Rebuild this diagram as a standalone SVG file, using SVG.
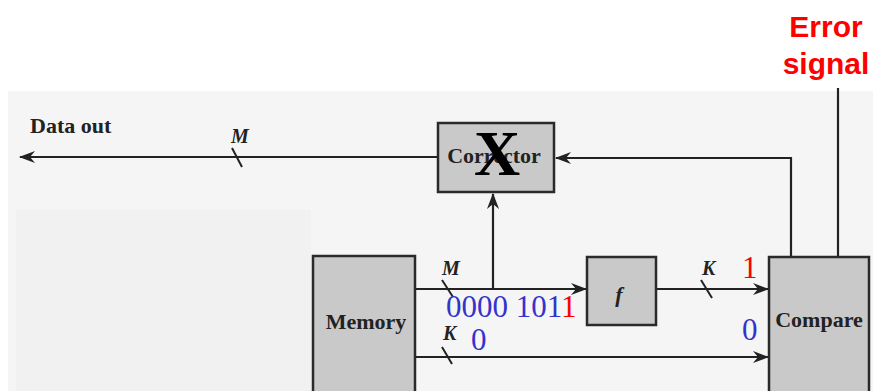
<svg xmlns="http://www.w3.org/2000/svg" width="873" height="391" viewBox="0 0 873 391">
<style>
.box{fill:#c9c9c9;stroke:#2a2a2a;stroke-width:2.5}
.lbl{font-family:"Liberation Serif",serif;font-weight:bold;font-size:22px;fill:#222}
.it{font-family:"Liberation Serif",serif;font-weight:bold;font-style:italic;font-size:20px;fill:#222}
.ln{fill:none;stroke:#222;stroke-width:2.2}
.sl{stroke:#222;stroke-width:2}
.num{font-family:"Liberation Serif",serif;font-size:31px}
.err{font-family:"Liberation Sans",Arial,sans-serif;font-weight:bold;font-size:30px;fill:#ff0000}
</style>
<defs>
<marker id="ah" viewBox="0 0 16 12" refX="15" refY="6" markerWidth="16" markerHeight="12" markerUnits="userSpaceOnUse" orient="auto">
<path d="M0,0 L16,6 L0,12 L5,6 z" fill="#222"/>
</marker>
</defs>
<rect x="0" y="0" width="873" height="391" fill="#ffffff"/>
<rect x="8" y="91" width="865" height="300" fill="#f5f5f5"/>
<rect x="16" y="210" width="295" height="181" fill="#f1f1f1"/>
<g id="connectors">
<line class="ln" x1="438" y1="157" x2="20" y2="157" marker-end="url(#ah)"/>
<line class="sl" x1="232" y1="148" x2="242" y2="167"/>
<polyline class="ln" points="791,257 791,158 556,158" marker-end="url(#ah)"/>
<line class="ln" x1="838" y1="88" x2="838" y2="257"/>
<line class="ln" x1="493" y1="289" x2="493" y2="194" marker-end="url(#ah)"/>
<line class="ln" x1="415" y1="289" x2="586" y2="289" marker-end="url(#ah)"/>
<line class="sl" x1="442" y1="280" x2="453" y2="297"/>
<line class="ln" x1="656" y1="289" x2="768" y2="289" marker-end="url(#ah)"/>
<line class="sl" x1="701" y1="280" x2="712" y2="298"/>
<line class="ln" x1="415" y1="357" x2="768" y2="357" marker-end="url(#ah)"/>
<line class="sl" x1="442" y1="347" x2="452" y2="364"/>
</g>
<g id="corrector">
<rect class="box" x="438" y="123" width="116" height="69"/>
<text class="lbl" x="494" y="163" text-anchor="middle">Corrector</text>
<text x="497" y="175" text-anchor="middle" style="font-family:'Liberation Serif',serif;font-weight:bold;font-size:64px;fill:#000">X</text>
</g>
<g id="memory">
<rect class="box" x="313" y="256" width="102" height="140"/>
<text class="lbl" x="366" y="329" text-anchor="middle">Memory</text>
</g>
<g id="f">
<rect class="box" x="587" y="257" width="69" height="68"/>
<text x="619" y="302" text-anchor="middle" style="font-family:'Liberation Serif',serif;font-style:italic;font-weight:bold;font-size:22px;fill:#222">f</text>
</g>
<g id="compare">
<rect class="box" x="769" y="257" width="100" height="140"/>
<text class="lbl" x="819" y="327" text-anchor="middle">Compare</text>
</g>
<g id="labels">
<text class="lbl" x="30" y="133">Data out</text>
<text class="it" x="231" y="143">M</text>
<text class="it" x="442" y="275">M</text>
<text class="it" x="443" y="340">K</text>
<text class="it" x="702" y="275">K</text>
<text class="num" x="446" y="317" fill="#3333cc">0000 101<tspan fill="#ff0000">1</tspan></text>
<text class="num" x="471" y="350" fill="#3333cc">0</text>
<text class="num" x="742" y="340" fill="#3333cc">0</text>
<text class="num" x="742" y="278" fill="#ff0000">1</text>
<text class="err" x="826" y="37" text-anchor="middle">Error</text>
<text class="err" x="826" y="74" text-anchor="middle">signal</text>
</g>
</svg>
